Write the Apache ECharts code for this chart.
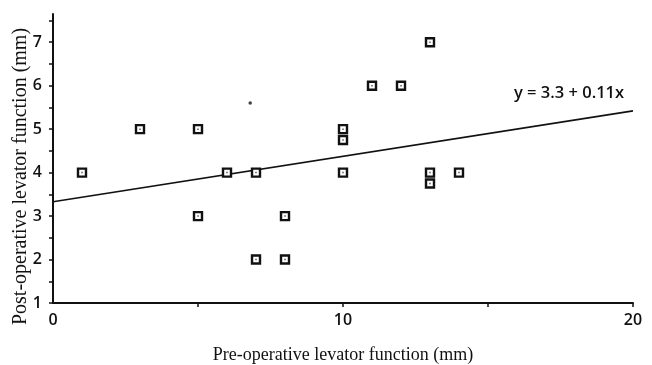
<!DOCTYPE html>
<html>
<head>
<meta charset="utf-8">
<script src="https://cdn.jsdelivr.net/npm/echarts@6/dist/echarts.min.js"></script>
<style>
  html, body { margin: 0; padding: 0; background: #fff; }
  #chart { width: 652px; height: 365px; }
</style>
</head>
<body>
<div id="chart"></div>
<script>
// pre-operative levator function (mm)
var preOp = [1, 3, 5, 5, 6, 7, 7, 8, 8, 10, 10, 10, 11, 12, 13, 13, 13, 14];
// post-operative levator function (mm)
var postOp = [4, 5, 5, 3, 4, 4, 2, 3, 2, 5, 4.75, 4, 6, 6, 7, 4, 3.75, 4];
// regression line end points, y = 3.3 + 0.11x as drawn
var fitX = [0, 20];
var fitY = [3.33, 5.42];
// stray dot in the scan
var stray = [[6.8, 5.6]];

var yTicks = [1, 1.5, 2, 2.5, 3, 3.5, 4, 4.5, 5, 5.5, 6, 6.5, 7, 7.5];
var yLabels = [1, 2, 3, 4, 5, 6, 7];
var xTicks = [5, 10, 15, 20];
var xLabels = [0, 10, 20];

var points = preOp.map(function (x, i) { return [x, postOp[i]]; });
var fitLine = fitX.map(function (x, i) { return [x, fitY[i]]; });

var tickFont = { color: '#111', fontFamily: 'Open Sans', fontSize: 16, fontWeight: 600 };

var option = {
    backgroundColor: '#fff',
    animation: false,
    grid: { left: 53, right: 19, top: 14, bottom: 62, outerBoundsMode: 'none', containLabel: false },
    xAxis: {
        type: 'value',
        min: 0,
        max: 20,
        name: 'Pre-operative levator function (mm)',
        nameLocation: 'middle',
        nameGap: 43,
        nameMoveOverlap: false,
        nameTextStyle: { fontFamily: 'Liberation Serif', fontSize: 18, color: '#111' },
        axisLine: { show: true, onZero: false, lineStyle: { color: '#111', width: 2 } },
        axisTick: { show: true, customValues: xTicks, length: 4, lineStyle: { color: '#111', width: 1.5 } },
        axisLabel: Object.assign({ customValues: xLabels, margin: 9 }, tickFont),
        splitLine: { show: false }
    },
    yAxis: {
        type: 'value',
        min: 1,
        max: 7.65,
        name: 'Post-operative levator function (mm)',
        nameLocation: 'middle',
        nameGap: 22,
        nameMoveOverlap: false,
        nameTextStyle: { fontFamily: 'Liberation Serif', fontSize: 20, color: '#111', padding: [0, 36, 0, 0] },
        axisLine: { show: true, onZero: false, lineStyle: { color: '#111', width: 2 } },
        axisTick: { show: true, customValues: yTicks, length: 4, lineStyle: { color: '#111', width: 1.5 } },
        axisLabel: Object.assign({ customValues: yLabels, margin: 11 }, tickFont),
        splitLine: { show: false }
    },
    series: [
        {
            name: 'fit',
            type: 'line',
            data: fitLine,
            symbol: 'none',
            lineStyle: { color: '#111', width: 1.7 },
            z: 2
        },
        {
            name: 'patients',
            type: 'scatter',
            data: points,
            symbol: 'rect',
            symbolSize: 8,
            itemStyle: { color: '#fff', borderColor: '#111', borderWidth: 2.4, opacity: 1 },
            z: 3
        },
        {
            name: 'centres',
            type: 'scatter',
            data: points,
            symbol: 'rect',
            symbolSize: 1.5,
            itemStyle: { color: '#333' },
            z: 4
        },
        {
            name: 'stray',
            type: 'scatter',
            data: stray,
            symbol: 'circle',
            symbolSize: 3.5,
            itemStyle: { color: '#111' },
            z: 4
        }
    ],
    graphic: [
        {
            type: 'text',
            left: 514,
            top: 85,
            style: {
                text: 'y = 3.3 + 0.11x',
                fill: '#111',
                fontFamily: 'Open Sans',
                fontSize: 16.5,
                fontWeight: 600
            }
        }
    ]
};

var myChart = echarts.init(document.getElementById('chart'));
myChart.setOption(option);
</script>
</body>
</html>
